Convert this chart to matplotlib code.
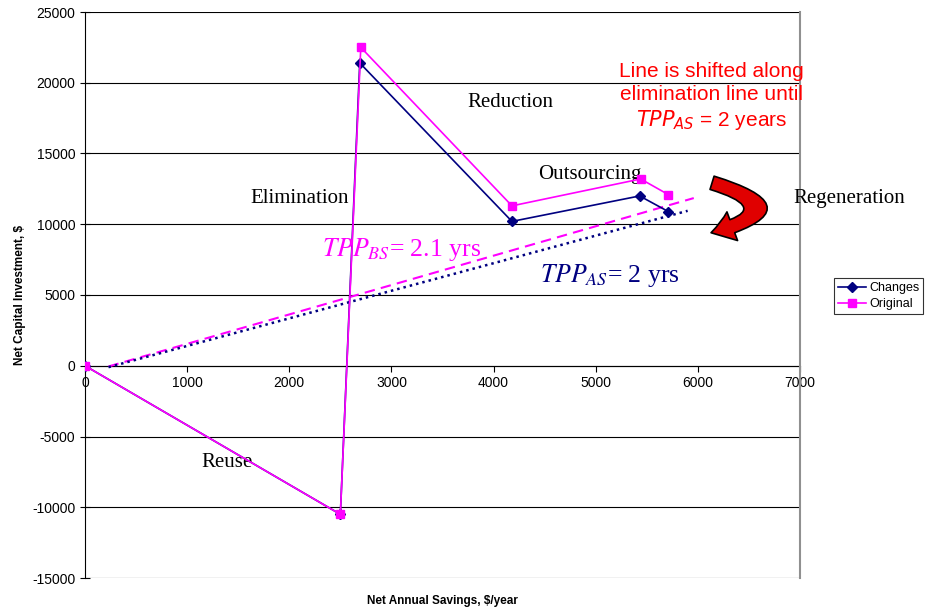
import matplotlib
matplotlib.use("Agg")
import matplotlib.pyplot as plt
from matplotlib.patches import FancyArrowPatch

plt.rcParams['font.family'] = ['Liberation Sans', 'DejaVu Sans']
plt.rcParams['mathtext.fontset'] = 'stix'
plt.rcParams['axes.unicode_minus'] = False

# data
changes_x = [0, 2500, 2690, 4180, 5430, 5710]
changes_y = [0, -10500, 21400, 10200, 12000, 10900]
original_x = [0, 2500, 2700, 4180, 5440, 5710]
original_y = [0, -10500, 22500, 11300, 13200, 12100]

tpp_bs_x = [230, 5960]
tpp_bs_y = [-50, 11850]
tpp_as_x = [230, 5900]
tpp_as_y = [-100, 10950]

x_ticks = [0, 1000, 2000, 3000, 4000, 5000, 6000, 7000]
y_ticks = [-15000, -10000, -5000, 0, 5000, 10000, 15000, 20000, 25000]

navy = '#000080'
magenta = '#FF00FF'

fig = plt.figure(figsize=(9.27, 6.14), dpi=100)
ax = fig.add_axes([85 / 927, 36 / 614, 715 / 927, 566 / 614])

for yv in y_ticks:
    ax.axhline(yv, color='black', lw=0.8, zorder=0)

ax.plot(tpp_bs_x, tpp_bs_y, color=magenta, ls=(0, (5, 3)), lw=1.5, zorder=2)
ax.plot(tpp_as_x, tpp_as_y, color=navy, ls=(0, (1, 1.6)), lw=1.8, zorder=2)

ax.plot(changes_x, changes_y, color=navy, marker='D', ms=5, lw=1.2,
        label='Changes', zorder=3)
ax.plot(original_x, original_y, color=magenta, marker='s', ms=6, lw=1.2,
        label='Original', zorder=4)

ax.set_xlim(0, 7000)
ax.set_ylim(-15000, 25000)
ax.set_xticks(x_ticks)
ax.set_yticks(y_ticks)
ax.tick_params(labelsize=10, length=4, color='black')
ax.tick_params(axis='y', direction='inout', length=7)

ax.spines['bottom'].set_position(('data', 0))
ax.spines['bottom'].set_zorder(1)
ax.spines['left'].set_color('black')
ax.spines['right'].set_color('#909090')
ax.spines['right'].set_linewidth(1.5)
ax.spines['top'].set_visible(False)

ax.set_xlabel('Net Annual Savings, $/year', fontsize=8.5, fontweight='bold')
ax.xaxis.set_label_coords(0.5, -0.03)
ax.set_ylabel('Net Capital Investment, $', fontsize=8.5, fontweight='bold')
ax.yaxis.set_label_coords(-0.082, 0.5)

serif = ['Liberation Serif', 'DejaVu Serif']
ax.text(2106, 11800, 'Elimination', fontsize=15, family=serif, ha='center', va='center')
ax.text(4163, 18600, 'Reduction', fontsize=15, family=serif, ha='center', va='center')
ax.text(4946, 13500, 'Outsourcing', fontsize=15, family=serif, ha='center', va='center')
ax.text(7483, 11800, 'Regeneration', fontsize=15, family=serif, ha='center', va='center',
        clip_on=False)
ax.text(1391, -6850, 'Reuse', fontsize=15, family=serif, ha='center', va='center')

ax.text(2325, 8200, r'$TPP_{BS}$= 2.1 yrs', fontsize=18.5, family=serif, color=magenta,
        ha='left', va='center')
ax.text(4450, 6400, r'$TPP_{AS}$= 2 yrs', fontsize=18.5, family=serif, color=navy,
        ha='left', va='center')

ax.text(6131, 19000, 'Line is shifted along\nelimination line until\n' + r'$TPP_{AS}$ = 2 years',
        fontsize=15, color='red', ha='center', va='center', linespacing=1.22,
        math_fontfamily='dejavusans', clip_on=False)

arrow = FancyArrowPatch((6139, 12930), (6129, 9400),
                        connectionstyle='arc3,rad=-1.76',
                        arrowstyle='simple,tail_width=10,head_width=22,head_length=16',
                        facecolor='#E00000', edgecolor='black', lw=1.2,
                        shrinkA=0, shrinkB=0, zorder=5, clip_on=False)
ax.add_patch(arrow)

leg = ax.legend(loc='center left', bbox_to_anchor=(828 / 927, 1 - 296 / 614),
                bbox_transform=fig.transFigure, fontsize=9, frameon=True,
                fancybox=False, edgecolor='black', handlelength=2.2,
                borderpad=0.3, labelspacing=0.3, handletextpad=0.3)
leg.get_frame().set_linewidth(0.8)

fig.savefig('out.png', dpi=100)
